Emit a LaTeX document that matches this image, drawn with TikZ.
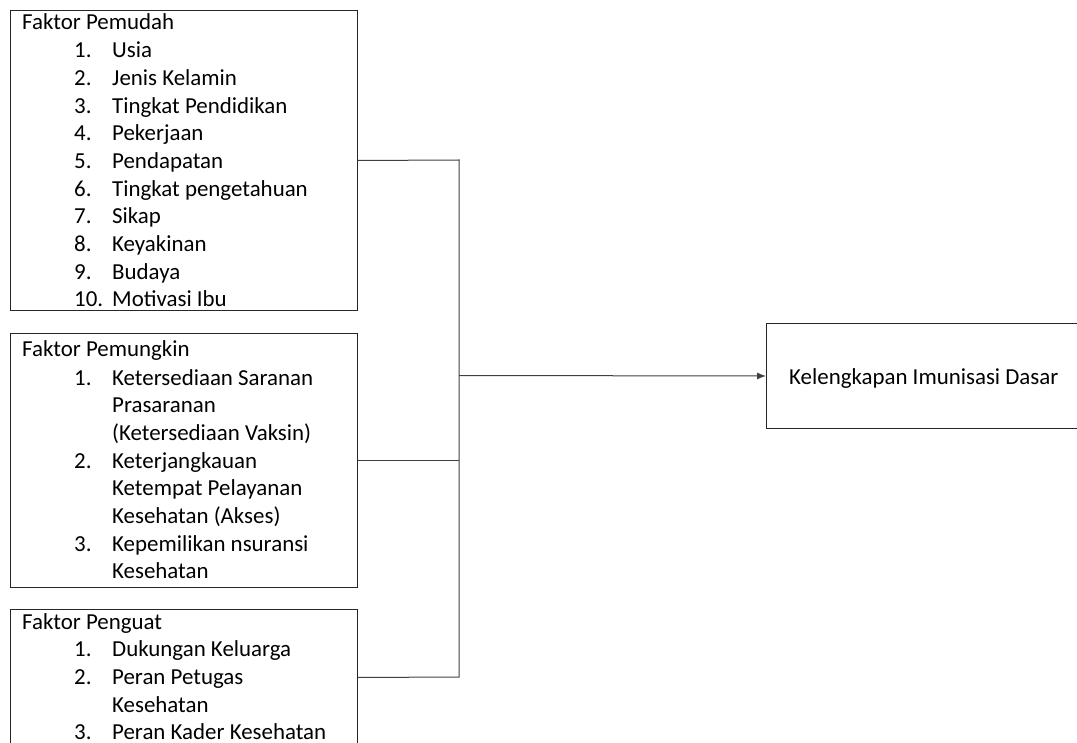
\documentclass[tikz,border=0pt]{standalone}
\usepackage{fontspec}
\setmainfont{Carlito}
\usetikzlibrary{arrows.meta}
\begin{document}
\begin{tikzpicture}[x=1pt,y=-1pt,
  box/.style={draw=black!85,line width=1pt,inner sep=0pt,anchor=north west},
  txt/.style={anchor=base west,inner sep=0pt,font=\fontsize{22.9}{27}\selectfont,text=black},
  conn/.style={draw=black!75,line width=1pt}]
\useasboundingbox (0,0) rectangle (1077,743);
\clip (0,0) rectangle (1077,743);
% boxes
\node[box,minimum width=347pt,minimum height=300pt] (b1) at (10,10) {};
\node[box,minimum width=347pt,minimum height=254pt] (b2) at (10,333) {};
\node[box,minimum width=347pt,minimum height=136pt] (b3) at (10,609) {};
\node[box,minimum width=330pt,minimum height=105pt] (b4) at (766,323) {};
% box 1 text
\node[txt] (h1) at (22,30) {Faktor Pemudah};
\foreach \n/\t [count=\i from 1] in {1./Usia,2./Jenis Kelamin,3./Tingkat Pendidikan,4./Pekerjaan,5./Pendapatan,6./Tingkat pengetahuan,7./Sikap,8./Keyakinan,9./Budaya,10./Motivasi Ibu}{
  \node[txt] (n1-\i) at (74,30+27.7*\i) {\n};
  \node[txt] (t1-\i) at (112,30+27.7*\i) {\t};
}
% box 2 text
\node[txt] (h2) at (22,357) {Faktor Pemungkin};
\node[txt] (n2-1) at (74,385) {1.};
\node[txt] (t2-1) at (112,385) {Ketersediaan Saranan};
\node[txt] (t2-1b) at (112,412.7) {Prasaranan};
\node[txt] (t2-1c) at (112,440.4) {(Ketersediaan Vaksin)};
\node[txt] (n2-2) at (74,468.1) {2.};
\node[txt] (t2-2) at (112,468.1) {Keterjangkauan};
\node[txt] (t2-2b) at (112,495.8) {Ketempat Pelayanan};
\node[txt] (t2-2c) at (112,523.5) {Kesehatan (Akses)};
\node[txt] (n2-3) at (74,551.2) {3.};
\node[txt] (t2-3) at (112,551.2) {Kepemilikan nsuransi};
\node[txt] (t2-3b) at (112,578.9) {Kesehatan};
% box 3 text
\node[txt] (h3) at (22,629) {Faktor Penguat};
\node[txt] (n3-1) at (74,656.7) {1.};
\node[txt] (t3-1) at (112,656.7) {Dukungan Keluarga};
\node[txt] (n3-2) at (74,684.4) {2.};
\node[txt] (t3-2) at (112,684.4) {Peran Petugas};
\node[txt] (t3-2b) at (112,712.1) {Kesehatan};
\node[txt] (n3-3) at (74,739.8) {3.};
\node[txt] (t3-3) at (112,739.8) {Peran Kader Kesehatan};
% box 4 text
\node[txt] (t4) at (789,384.5) {Kelengkapan Imunisasi Dasar};
% connectors
\coordinate (s1) at (459,160);
\coordinate (s3) at (459,677);
\coordinate (s2) at (459,375.5);
\draw[conn] (b1.east) -- (s1) -- (s3) -- (b3.east);
\draw[conn] (b2.east) -- (b2.east -| s1);
\draw[conn,-{Latex[length=9pt,width=7pt]}] (s2) -- (b4.west);
\end{tikzpicture}
\end{document}
